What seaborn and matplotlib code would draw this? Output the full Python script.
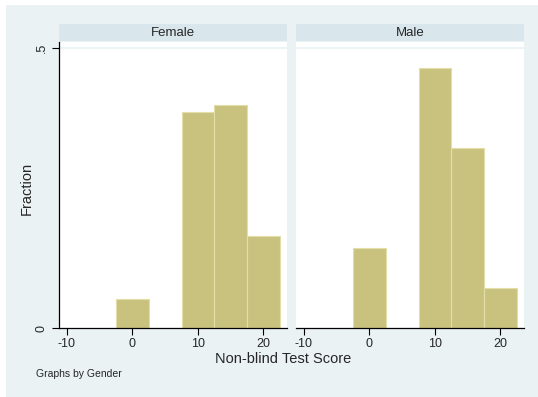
import matplotlib
matplotlib.use("Agg")
import matplotlib.pyplot as plt
from matplotlib.patches import Rectangle
import seaborn as sns
import pandas as pd

# histogram data (bin width 5, centred on multiples of 5)
bin_centers = [0, 5, 10, 15, 20]
female_frac = [0.052, 0.0, 0.385, 0.398, 0.165]
male_frac = [0.143, 0.0, 0.464, 0.321, 0.071]
genders = ["Female", "Male"]
x_ticks = [-10, 0, 10, 20]
y_ticks = [0, 0.5]
y_ticklabels = ["0", ".5"]

df = pd.DataFrame({
    "score": bin_centers * 2,
    "frac": female_frac + male_frac,
    "gender": ["Female"] * 5 + ["Male"] * 5,
})

sns.set_theme(style="white")
plt.rcParams["font.family"] = ["Liberation Sans", "DejaVu Sans"]

W, H = 538, 397
fig = plt.figure(figsize=(W / 100, H / 100), dpi=100)
fig.patch.set_facecolor("white")

bg = "#eaf2f3"
strip_col = "#d9e6eb"
bar_col = "#c9c27f"
edge_col = "#e2dea8"

fig.patches.append(Rectangle((6 / W, 0), 1 - 6 / W, 1 - 5 / H,
                             transform=fig.transFigure, facecolor=bg,
                             edgecolor="none", zorder=-10))


def fx(px):
    return px / W


def fy(py):
    return 1 - py / H


panel_x = [(59, 287), (296, 524)]
top_px, bot_px = 42, 328

for i, (g, (x0, x1)) in enumerate(zip(genders, panel_x)):
    ax = fig.add_axes([fx(x0), fy(bot_px), (x1 - x0) / W, (bot_px - top_px) / H])
    ax.set_facecolor("white")
    sub = df[df["gender"] == g]
    sns.histplot(data=sub, x="score", weights="frac", binwidth=5,
                 binrange=(-2.5, 22.5), ax=ax,
                 color=bar_col, edgecolor=edge_col, linewidth=0.8, alpha=1)
    ax.set_xlim(-11.2, 23.6)
    ax.set_ylim(0, 0.5 + (48 - top_px) / 560)
    ax.axhline(0.5, color=bg, lw=1.2, zorder=0)
    ax.set_xlabel("")
    ax.set_ylabel("")
    ax.set_xticks(x_ticks)
    ax.set_xticklabels([str(t) for t in x_ticks], fontsize=9)
    ax.tick_params(axis="x", direction="out", length=5, width=0.8,
                   color="black", pad=2, bottom=True)
    for s in ["top", "right"]:
        ax.spines[s].set_visible(False)
    ax.spines["bottom"].set_color("black")
    ax.spines["bottom"].set_linewidth(0.9)
    if i == 0:
        ax.set_yticks(y_ticks)
        ax.set_yticklabels(y_ticklabels, fontsize=9, rotation=90, va="center")
        ax.tick_params(axis="y", direction="out", length=5, width=0.8,
                       color="black", pad=3, left=True)
        ax.spines["left"].set_color("black")
        ax.spines["left"].set_linewidth(0.9)
    else:
        ax.set_yticks([])
        ax.spines["left"].set_visible(False)
    # strip header
    fig.patches.append(Rectangle((fx(x0), fy(41)), (x1 - x0) / W, 17 / H,
                                 transform=fig.transFigure, facecolor=strip_col,
                                 edgecolor="none", zorder=-5))
    fig.text(fx((x0 + x1) / 2), fy(32.5), g, ha="center", va="center", fontsize=9.5)

fig.text(fx(27), fy(188), "Fraction", rotation=90, ha="center", va="center", fontsize=10.5)
fig.text(fx(283), fy(359), "Non-blind Test Score", ha="center", va="center", fontsize=10.5)
fig.text(fx(36), fy(374), "Graphs by Gender", ha="left", va="center", fontsize=7.5)

fig.savefig("out.png", dpi=100)
